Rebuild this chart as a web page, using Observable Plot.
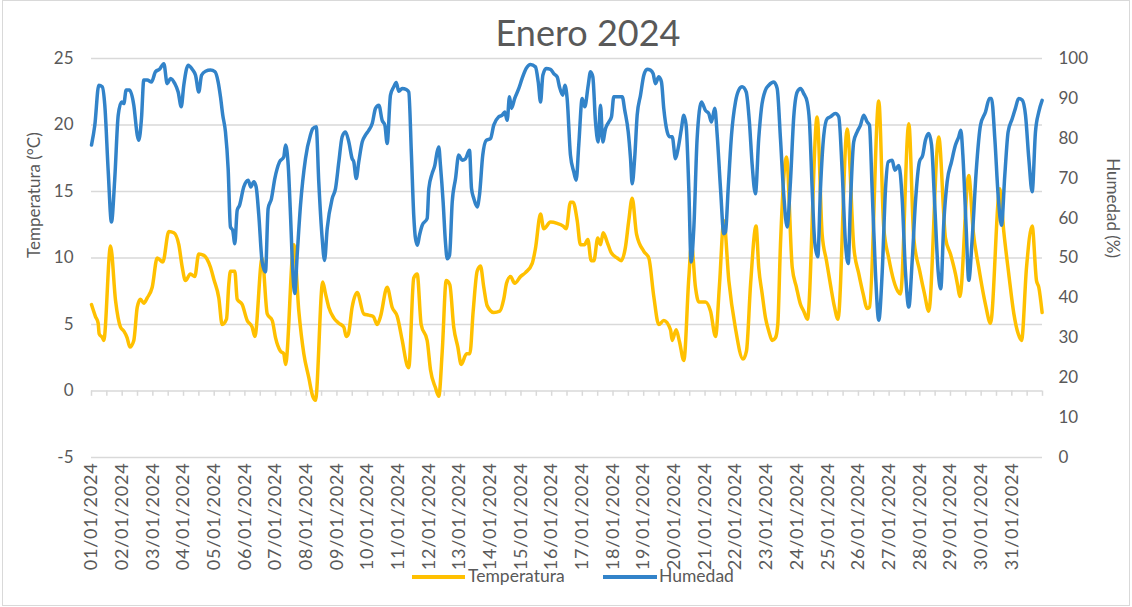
<!DOCTYPE html>
<html>
<head>
<meta charset="utf-8">
<script src="https://cdn.jsdelivr.net/npm/d3@7"></script>
<script src="https://cdn.jsdelivr.net/npm/@observablehq/plot@0.6"></script>
<style>
  body { margin: 0; background: #fff; }
  #wrap { position: relative; width: 1132px; height: 607px; overflow: hidden; font-family: Lato, sans-serif; color: #595959; }
  #frame { position: absolute; left: 2px; top: 0px; width: 1126px; height: 604px; border: 1px solid #d9d9d9; pointer-events: none; }
  #title { position: absolute; left: 588px; top: 14px; transform: translateX(-50%); font-size: 36px; line-height: 1; white-space: nowrap; }
  .sw { position: absolute; height: 4px; top: 575px; }
  .lg { position: absolute; top: 567px; font-size: 17.5px; line-height: 1; white-space: nowrap; }
  #chart { position: absolute; left: 0; top: 0; }
</style>
</head>
<body>
<div id="wrap">
  <div id="chart"></div>
  <div id="title">Enero 2024</div>
  <div class="sw" style="left:412px;width:53px;background:#FFC000"></div>
  <div class="lg" style="left:468px">Temperatura</div>
  <div class="sw" style="left:603px;width:54px;background:#3283C9"></div>
  <div class="lg" style="left:659px">Humedad</div>
  <div id="frame"></div>
</div>
<script>
// ---- Data (hours since 01/01/2024 00:00) ----
const dayLabels = ["01/01/2024","02/01/2024","03/01/2024","04/01/2024","05/01/2024","06/01/2024","07/01/2024","08/01/2024","09/01/2024","10/01/2024","11/01/2024","12/01/2024","13/01/2024","14/01/2024","15/01/2024","16/01/2024","17/01/2024","18/01/2024","19/01/2024","20/01/2024","21/01/2024","22/01/2024","23/01/2024","24/01/2024","25/01/2024","26/01/2024","27/01/2024","28/01/2024","29/01/2024","30/01/2024","31/01/2024"];
const tempTicks = [-5, 0, 5, 10, 15, 20, 25];
const humTicks = [0, 10, 20, 30, 40, 50, 60, 70, 80, 90, 100];

const tempHours = [
  0,3.1,5.2,6.0,8.6,9.6,14.9,18.8,22.7,25.3,
  27.9,30.0,33.1,35.8,38.3,40.9,43.6,47.5,51.4,55.8,
  60.5,64.4,68.3,71.0,73.5,77.4,80.8,83.9,87.9,93.1,
  95.7,99.6,102.2,105.6,107.4,108.7,112.1,114.0,117.9,121.8,
  125.7,127.8,133.5,137.5,141.4,144.0,147.8,150.4,151.8,158.3,
  162.2,166.1,170.0,173.1,175.2,180.9,183.1,185.6,189.5,193.5,
  197.4,199.3,201.0,203.9,207.9,213.0,216.9,220.4,223.5,226.1,
  231.3,235.2,239.2,243.1,247.0,248.2,252.1,254.8,257.9,262.6,
  265.2,269.1,271.7,274.4,277.5,280.3,283.4,286.6,289.2,293.4,
  296.0,298.6,301.7,304.3,306.9,309.6,314.7,319.4,322.5,324.7,
  327.8,331.1,335.6,339.5,344.8,347.3,351.3,353.8,359.1,364.3,
  369.0,371.4,374.7,376.8,380.0,382.5,385.7,388.3,390.9,393.0,
  396.1,398.2,400.3,403.4,406.6,411.3,414.4,417.7,420.3,423.0,
  426.4,432.1,436.0,439.9,443.8,447.7,453.0,454.3,457.4,460.0,
  463.4,467.3,469.4,472.5,475.1,480.3,484.3,488.2,491.3,494.7,
  498.6,503.8,509.7,512.4,515.6,519.9,522.0,524.7,527.3,529.9,
  532.5,535.1,536.9,539.0,543.7,548.2,551.5,554.7,557.2,560.1,
  567.7,571.6,575.0,578.1,581.3,584.0,591.2,596.4,600.3,603.7,
  606.9,608.7,615.9,619.8,623.7,627.6,630.8,632.9,639.4,643.3,
  648.0,651.7,655.0,662.8,668.1,672.0,675.9,677.7,679.3,686.3,
  689.8,694.1,699.4,703.3,710.6,713.7,717.6,721.6,725.0,727.6,
  731.5,735.9,739.3,741.1,743.7];
const tempValues = [
  6.5,5.6,5.1,4.3,4.0,3.8,10.9,6.8,4.8,4.5,
  4.0,3.3,3.8,6.3,6.9,6.6,7.0,7.8,10.0,9.7,
  12.0,11.9,11.0,9.3,8.3,8.8,8.6,10.3,10.2,9.3,
  8.4,7.0,5.0,5.4,8.0,9.0,9.0,6.9,6.5,5.3,
  4.8,4.1,10.0,5.8,5.3,4.0,3.0,2.8,2.0,11.0,
  6.0,2.8,1.0,-0.4,-0.7,8.2,7.3,6.3,5.5,5.1,
  4.8,4.1,4.3,6.3,7.4,5.8,5.7,5.6,5.0,5.6,
  7.8,6.3,5.6,3.8,1.9,1.75,8.5,8.8,5.0,3.8,
  1.6,0.25,-0.4,3.0,8.3,8.0,4.8,3.3,2.0,2.8,
  2.8,6.0,9.0,9.4,7.8,6.4,5.9,6.0,6.9,8.1,
  8.6,8.1,8.6,8.9,9.6,10.7,13.3,12.2,12.7,12.6,
  12.4,12.2,14.2,14.2,12.8,11.0,11.0,11.4,9.8,9.8,
  11.5,11.0,11.9,11.2,10.4,10.0,9.8,10.8,12.8,14.5,
  11.8,10.5,10.0,7.1,5.0,5.3,4.6,3.8,4.6,3.7,
  2.3,8.5,11.0,7.8,6.7,6.7,6.0,4.1,8.0,12.8,
  8.3,4.7,2.4,3.0,8.0,12.4,9.3,7.3,5.5,4.5,
  3.8,4.0,5.0,11.0,17.6,9.3,7.8,6.5,6.0,5.4,
  20.6,11.8,9.8,8.0,6.3,5.4,19.7,10.8,8.8,7.3,
  6.2,6.3,21.8,12.3,10.0,8.3,7.5,7.3,20.1,11.5,
  9.0,7.3,6.0,19.1,11.5,10.3,8.8,7.9,7.1,16.2,
  12.0,9.3,6.5,5.1,15.2,12.0,8.8,5.8,4.3,3.8,
  9.3,12.4,8.3,7.8,5.9];

const humHours = [
  0,2.6,5.7,8.4,10.4,13.1,15.6,18.2,20.9,23.5,
  25.3,27.1,29.7,33.1,35.8,37.0,39.1,40.9,43.6,46.9,
  50.1,53.2,56.6,59.2,61.8,65.2,67.8,70.2,72.2,75.6,
  78.8,81.4,83.9,86.1,89.2,93.1,96.5,99.1,100.9,102.7,
  104.8,106.9,108.7,110.5,112.1,114.0,115.8,119.1,122.6,124.6,
  127.0,128.8,130.9,133.5,136.1,138.2,140.8,143.4,147.1,150.4,
  151.8,153.9,155.7,157.5,159.0,160.9,163.5,167.4,171.3,173.1,
  175.8,177.8,180.5,182.3,184.4,188.3,190.9,193.5,196.1,198.7,
  201.3,203.9,205.2,207.1,209.1,211.8,214.3,216.9,219.6,222.2,
  224.8,227.4,229.5,231.3,233.9,236.5,238.4,240.4,243.1,246.2,
  248.2,250.3,252.1,253.5,255.0,256.6,258.7,262.6,263.9,266.5,
  268.6,270.4,271.7,273.0,275.1,276.9,278.3,280.1,282.2,284.8,
  287.3,290.0,292.6,295.7,297.3,299.1,301.7,303.5,306.1,308.8,
  312.1,314.7,318.6,321.3,323.3,325.2,327.0,328.6,331.1,334.3,
  336.9,340.1,343.4,347.3,349.5,351.3,353.1,355.7,359.1,361.6,
  364.3,366.1,368.7,370.3,372.1,374.7,377.3,379.2,381.2,383.9,
  385.9,388.6,390.4,392.2,394.3,396.4,398.2,400.0,402.1,404.7,
  406.8,408.6,412.0,415.2,417.2,419.9,421.7,423.0,425.0,426.9,
  429.5,432.1,434.7,437.3,439.4,441.2,443.8,445.9,447.7,450.4,
  452.2,454.3,456.9,458.9,461.5,463.4,465.2,467.3,469.1,471.2,
  473.8,477.2,480.3,482.9,485.0,487.6,489.5,492.1,494.7,496.0,
  498.1,500.7,503.8,506.4,509.0,512.2,514.7,516.9,519.4,522.0,
  524.1,527.3,529.9,533.8,536.4,539.0,541.6,544.2,546.8,549.4,
  552.1,554.7,557.2,559.9,561.7,563.8,565.8,568.2,570.3,572.9,
  575.5,578.1,582.0,584.6,587.3,589.8,592.0,593.7,596.3,599.0,
  601.6,604.1,606.8,608.6,610.7,613.3,615.9,618.6,621.2,623.3,
  626.4,628.5,631.6,634.2,636.8,639.4,642.0,644.6,647.7,650.3,
  652.4,655.0,657.2,659.7,662.4,664.4,666.8,669.4,672.8,675.9,
  678.5,680.1,681.7,684.3,686.3,689.0,692.1,695.5,699.4,702.5,
  704.1,706.7,709.3,711.9,714.5,717.1,720.3,722.8,725.4,728.1,
  730.7,733.3,735.9,738.5,741.1,743.7];
const humValues = [
  78.3,83.3,93.3,92.9,88.3,71.6,59.0,69.9,85.8,89.1,
  88.7,92.1,92.1,88.3,80.8,79.5,85.0,94.6,94.6,94.1,
  96.7,97.3,98.7,93.7,95.0,93.7,91.6,87.9,93.3,98.3,
  97.3,95.8,91.6,95.8,96.8,97.1,96.7,94.1,90.4,85.8,
  81.6,72.4,57.8,56.9,53.6,62.0,63.2,67.8,69.5,67.8,
  69.1,67.8,60.7,49.0,46.5,62.4,64.9,69.9,74.1,75.3,
  78.3,73.2,60.7,46.5,41.1,50.7,63.2,74.9,80.8,82.4,
  82.9,69.1,54.8,49.4,57.4,64.9,67.4,74.1,80.4,81.6,
  79.1,74.9,74.1,69.9,74.1,79.1,80.8,82.0,83.7,87.5,
  88.3,84.5,83.3,78.7,90.8,92.9,94.0,91.8,92.5,92.2,
  91.6,75.8,60.7,54.8,53.2,55.7,58.2,59.9,67.4,71.2,
  73.2,76.6,77.8,73.2,64.0,54.0,49.8,50.7,64.0,69.9,
  75.8,74.5,74.9,77.0,67.4,64.9,62.8,65.7,75.8,79.5,
  79.9,83.3,85.4,85.8,86.6,84.5,90.4,87.5,90.0,92.5,
  95.0,97.5,98.5,97.9,94.1,89.1,95.8,97.5,97.3,96.2,
  95.4,92.9,90.8,93.3,90.0,75.8,71.6,69.5,78.3,90.0,
  87.9,93.3,96.7,95.4,84.1,79.1,88.3,79.1,82.4,84.1,
  85.4,90.4,90.4,90.4,87.0,81.6,74.9,68.6,75.3,85.8,
  90.8,95.8,97.3,97.1,96.2,93.7,95.4,94.1,87.5,81.6,
  80.4,80.4,74.9,77.4,82.4,85.8,83.3,67.4,49.0,57.4,
  79.9,89.1,87.0,86.2,84.1,87.5,80.8,67.4,56.1,56.5,
  67.4,80.8,89.1,92.1,92.9,91.6,84.1,73.2,66.1,79.9,
  87.5,92.1,93.3,94.1,92.5,79.9,65.7,57.8,69.1,85.4,
  91.6,92.5,91.2,89.1,84.1,67.4,54.0,50.3,67.4,80.8,
  84.9,85.4,86.2,85.4,71.6,54.0,48.6,63.2,79.1,81.6,
  83.3,85.8,84.1,83.3,67.4,46.5,34.4,46.5,67.4,74.1,
  74.5,72.0,73.2,64.9,46.5,37.7,49.0,64.0,74.1,75.8,
  79.5,81.2,78.3,63.2,46.5,42.3,59.0,69.1,74.1,78.3,
  80.4,82.0,75.8,57.4,44.4,54.8,71.6,83.3,86.6,90.0,
  90.0,79.9,65.7,58.2,70.7,81.6,84.9,87.5,90.0,89.6,
  85.8,74.9,66.6,81.6,86.6,89.5];

// ---- Build tables ----
const n1 = Math.min(tempHours.length, tempValues.length);
const tempData = d3.range(n1).map(i => ({h: tempHours[i], v: tempValues[i]}));
const n2 = Math.min(humHours.length, humValues.length);
// secondary axis (0–100 %) mapped onto the primary axis (-5–25 °C)
const humToY = hv => hv * 0.3 - 5;
const yToHum = y => (y + 5) / 0.3;
const humData = d3.range(n2).map(i => ({h: humHours[i], v: humToY(humValues[i])}));
const dayTicks = dayLabels.map((_, i) => i * 24);
const halfDayTicks = d3.range(0, 745, 12);

const grey = "#d9d9d9";
const txt = "#595959";

const chart = Plot.plot({
  width: 1132,
  height: 607,
  marginTop: 58,
  marginBottom: 150,
  marginLeft: 91,
  marginRight: 90,
  style: {fontFamily: "Lato, sans-serif", fontSize: "17px", color: txt, background: "transparent"},
  x: {domain: [0, 744], label: null},
  y: {domain: [-5, 25], label: null},
  marks: [
    Plot.gridY(tempTicks, {stroke: grey, strokeOpacity: 1, strokeWidth: 1.5}),
    Plot.ruleX(halfDayTicks, {y1: 0, y2: -0.4, stroke: grey, strokeWidth: 1.5}),
    Plot.axisY(tempTicks, {anchor: "left", tickSize: 0, tickPadding: 18, label: null, fill: txt,
      tickFormat: d => String(d)}),
    Plot.axisY(humTicks.map(humToY), {anchor: "right", tickSize: 0, tickPadding: 16, label: null, fill: txt,
      tickFormat: d => String(Math.round(yToHum(d)))}),
    Plot.axisX(dayTicks, {anchor: "bottom", tickSize: 0, tickPadding: 5, tickRotate: -90, label: null, fill: txt,
      fontSize: 18, tickFormat: d => dayLabels[Math.round(d / 24)]}),
    Plot.text(["Temperatura (°C)"], {frameAnchor: "left", dx: -57, rotate: -90, fontSize: 17, fill: txt}),
    Plot.text(["Humedad (%)"], {frameAnchor: "right", dx: 70, rotate: 90, fontSize: 17, fill: txt}),
    Plot.line(tempData, {x: "h", y: "v", stroke: "#FFC000", strokeWidth: 3.5, curve: "monotone-x", strokeLinejoin: "round"}),
    Plot.line(humData, {x: "h", y: "v", stroke: "#3283C9", strokeWidth: 3.5, curve: "monotone-x", strokeLinejoin: "round"})
  ]
});
document.getElementById("chart").appendChild(chart);
chart.querySelectorAll('g[aria-label="x-axis tick label"] text').forEach(t => t.style.letterSpacing = "0.8px");
</script>
</body>
</html>
